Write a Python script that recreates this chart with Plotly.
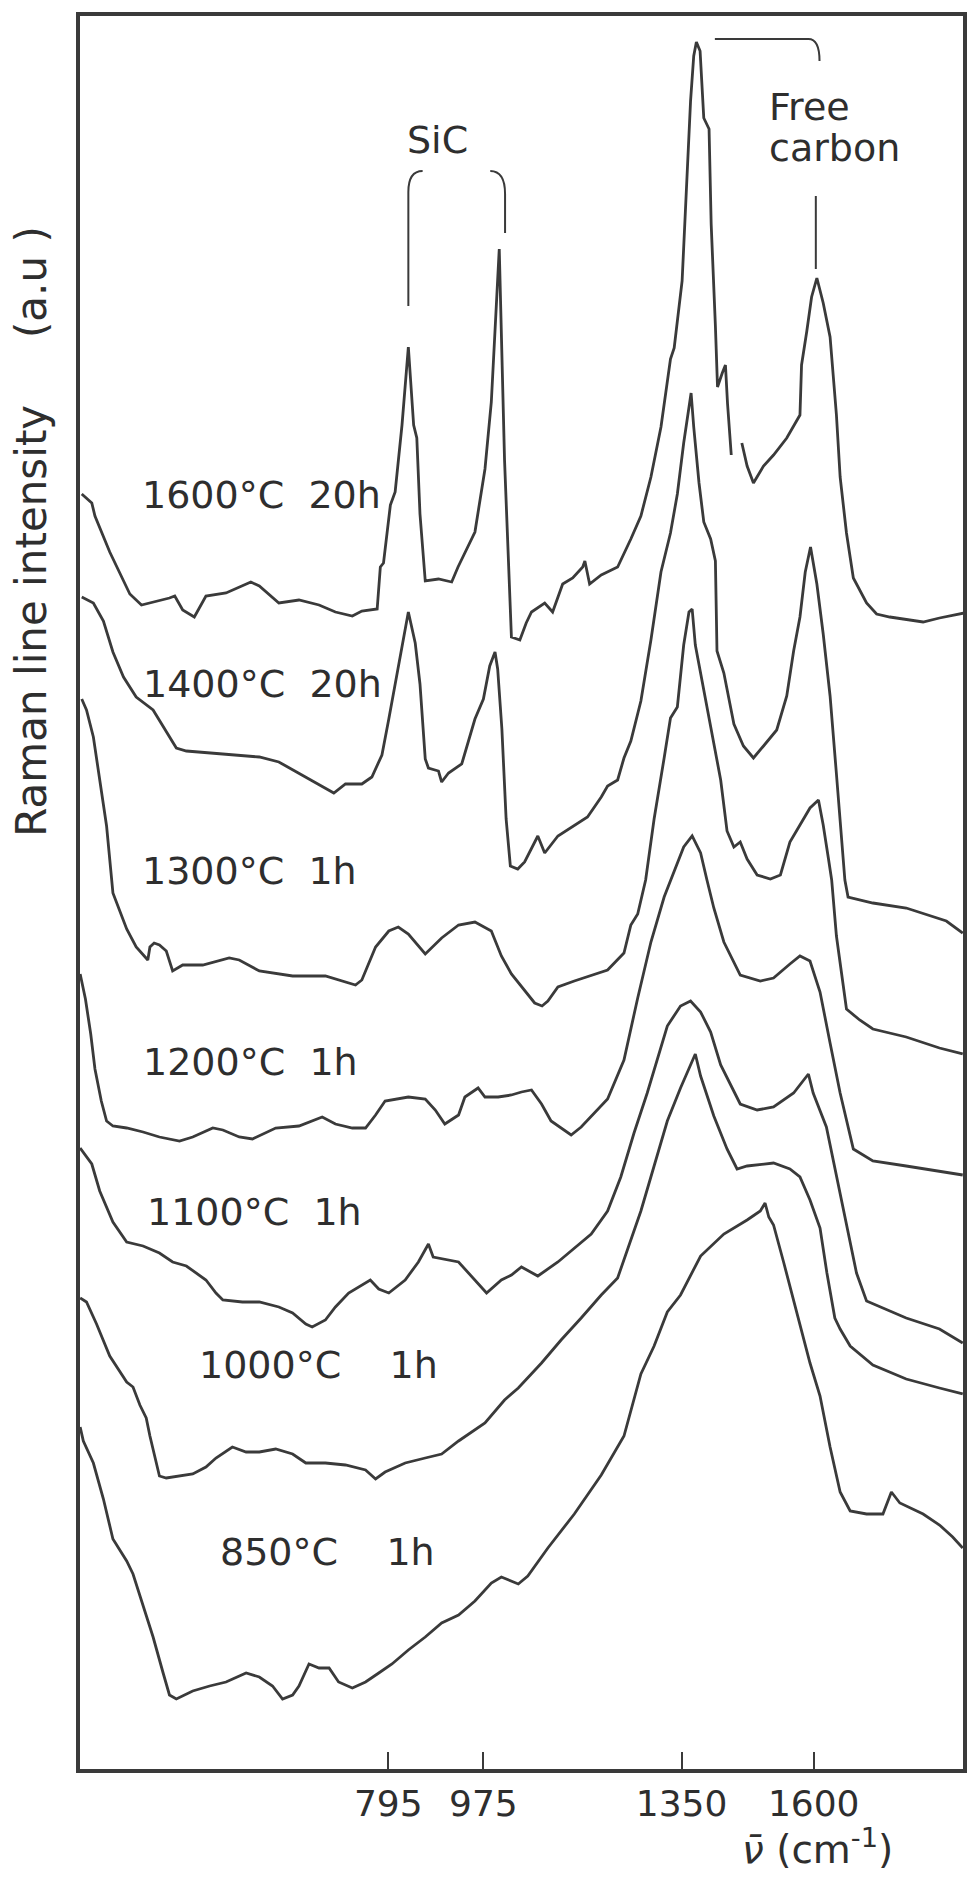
import plotly.graph_objects as go

# Raman spectra of pyrolysed samples, stacked (wavenumber in cm-1, intensity in a.u.)
NU_1600 = [215, 234, 240, 268, 306, 328, 381, 391, 406, 428, 450, 488, 535, 551, 588, 626, 664, 695, 727, 745,
           774, 780, 786, 799, 808, 821, 833, 843, 849, 855, 865, 890, 915, 927, 959, 978, 990, 1005, 1015, 1025,
           1028, 1044, 1056, 1066, 1091, 1106, 1125, 1144, 1163, 1167, 1176, 1198, 1229, 1254, 1273, 1292, 1311,
           1329, 1336, 1351, 1361, 1367, 1373, 1378, 1385, 1392, 1402, 1406, 1414, 1418, 1427, 1433, 1437, 1444,
           None, 1464, 1474, 1486, 1505, 1524, 1549, 1574, 1577, 1587, 1596, 1606, 1618, 1631, 1643, 1650, 1662,
           1675, 1700, 1719, 1744, 1807, 1838, 1885]
I_1600 = [1275, 1266, 1253, 1217, 1175, 1164, 1171, 1173, 1159, 1152, 1173, 1176, 1187, 1183, 1166, 1169, 1164,
          1157, 1153, 1158, 1160, 1202, 1206, 1264, 1277, 1344, 1422, 1344, 1331, 1255, 1188, 1190, 1187, 1202,
          1237, 1300, 1367, 1520, 1309, 1157, 1132, 1129, 1146, 1157, 1166, 1157, 1185, 1191, 1202, 1208, 1185,
          1194, 1202, 1230, 1253, 1292, 1342, 1410, 1421, 1488, 1595, 1668, 1713, 1727, 1718, 1651, 1640, 1545,
          1443, 1382, 1396, 1404, 1365, 1314, None, 1326, 1303, 1286, 1303, 1314, 1331, 1354, 1404, 1438, 1472,
          1491, 1466, 1432, 1354, 1292, 1236, 1191, 1166, 1155, 1152, 1147, 1151, 1156]

NU_1400 = [215, 237, 256, 274, 294, 318, 350, 394, 413, 488, 551, 588, 632, 670, 692, 714, 745, 764, 783, 796,
           808, 821, 833, 846, 855, 865, 871, 890, 896, 909, 934, 959, 975, 987, 997, 1002, 1010, 1018, 1026,
           1040, 1053, 1078, 1091, 1116, 1147, 1172, 1198, 1210, 1229, 1241, 1254, 1273, 1292, 1311, 1329, 1342,
           1354, 1364, 1368, 1373, 1383, 1392, 1405, 1414, 1417, 1430, 1449, 1467, 1486, 1505, 1530, 1549, 1562,
           1574, 1584, 1594, 1606, 1618, 1631, 1643, 1653, 1659, 1665, 1712, 1775, 1851, 1882]
I_1400 = [1172, 1166, 1148, 1117, 1092, 1072, 1059, 1021, 1018, 1015, 1012, 1007, 994, 983, 976, 985, 985, 992,
          1014, 1050, 1085, 1121, 1157, 1126, 1085, 1010, 1001, 998, 987, 996, 1005, 1050, 1070, 1103, 1117, 1100,
          1040, 950, 903, 900, 907, 933, 916, 933, 944, 952, 972, 983, 989, 1011, 1028, 1068, 1129, 1197, 1236,
          1275, 1326, 1365, 1376, 1342, 1286, 1247, 1230, 1208, 1118, 1096, 1045, 1023, 1011, 1023, 1039, 1073,
          1118, 1152, 1197, 1222, 1185, 1135, 1073, 995, 927, 889, 872, 866, 861, 848, 836]

NU_1300 = [215, 224, 237, 249, 262, 274, 300, 318, 340, 344, 352, 362, 375, 387, 406, 444, 494, 513, 551, 614,
           676, 733, 745, 771, 796, 814, 833, 865, 896, 928, 959, 990, 1009, 1028, 1047, 1072, 1086, 1097, 1116,
           1147, 1210, 1241, 1254, 1267, 1282, 1298, 1317, 1329, 1342, 1354, 1364, 1370, 1376, 1392, 1405, 1424,
           1436, 1449, 1461, 1474, 1493, 1518, 1537, 1555, 1574, 1593, 1609, 1618, 1628, 1634, 1643, 1662, 1687,
           1712, 1775, 1838, 1882]
I_1300 = [1070, 1059, 1032, 987, 943, 876, 840, 822, 809, 822, 826, 824, 818, 798, 804, 804, 811, 809, 798, 793,
          793, 784, 789, 822, 838, 842, 835, 815, 831, 844, 847, 838, 813, 795, 782, 766, 763, 768, 782, 788, 799,
          816, 844, 855, 889, 950, 1011, 1051, 1062, 1124, 1157, 1160, 1124, 1079, 1045, 989, 938, 922, 927, 910,
          894, 890, 894, 927, 944, 961, 969, 944, 910, 889, 833, 760, 749, 740, 732, 721, 715]

NU_1200 = [212, 222, 232, 240, 252, 262, 274, 300, 331, 362, 400, 425, 463, 482, 513, 538, 582, 626, 670, 695,
           727, 752, 771, 789, 833, 865, 884, 902, 928, 940, 965, 978, 1003, 1028, 1047, 1066, 1085, 1103, 1141,
           1160, 1210, 1241, 1267, 1292, 1317, 1342, 1354, 1370, 1386, 1398, 1411, 1430, 1461, 1499, 1524, 1555,
           1574, 1593, 1612, 1631, 1650, 1675, 1712, 1775, 1882]
I_1200 = [795, 770, 735, 700, 668, 648, 643, 641, 637, 632, 628, 632, 641, 639, 632, 630, 641, 643, 652, 645, 641,
          641, 654, 668, 672, 670, 659, 645, 654, 672, 681, 672, 672, 674, 677, 679, 665, 648, 634, 642, 670, 709,
          771, 827, 872, 905, 922, 933, 916, 889, 861, 827, 794, 788, 791, 805, 813, 808, 777, 726, 676, 620, 608,
          603, 594]

NU_1100 = [212, 234, 249, 274, 300, 331, 362, 387, 413, 450, 469, 482, 519, 551, 588, 614, 639, 651, 676, 695,
           720, 761, 777, 796, 827, 852, 871, 880, 928, 959, 981, 1009, 1028, 1047, 1078, 1116, 1179, 1210, 1235,
           1260, 1285, 1323, 1348, 1367, 1386, 1405, 1424, 1461, 1493, 1524, 1562, 1590, 1599, 1624, 1650, 1681,
           1700, 1775, 1838, 1882]
I_1100 = [621, 605, 578, 547, 527, 523, 516, 507, 503, 489, 476, 469, 467, 467, 462, 456, 445, 442, 449, 462, 476,
          489, 480, 476, 489, 507, 525, 512, 507, 489, 476, 489, 494, 502, 493, 507, 535, 558, 592, 636, 676, 743,
          763, 768, 757, 737, 704, 665, 659, 662, 676, 695, 676, 642, 575, 496, 468, 451, 440, 426]

NU_1000 = [212, 224, 243, 268, 300, 312, 325, 337, 344, 362, 375, 400, 425, 450, 469, 500, 526, 551, 582, 614,
           639, 676, 714, 752, 771, 789, 827, 865, 896, 928, 978, 1015, 1041, 1085, 1122, 1160, 1198, 1229, 1248,
           1273, 1298, 1323, 1348, 1370, 1376, 1386, 1411, 1436, 1455, 1474, 1524, 1555, 1574, 1593, 1612, 1625,
           1640, 1650, 1669, 1712, 1775, 1838, 1882]
I_1000 = [471, 467, 445, 413, 387, 382, 364, 351, 333, 293, 291, 293, 295, 302, 311, 322, 317, 317, 320, 315, 306,
          306, 304, 299, 290, 297, 306, 311, 315, 328, 346, 369, 381, 406, 429, 451, 474, 491, 519, 558, 603, 648,
          681, 709, 715, 693, 653, 620, 600, 603, 606, 600, 592, 569, 541, 496, 451, 440, 423, 404, 390, 381, 375]

NU_850 = [212, 218, 237, 256, 274, 300, 312, 331, 350, 369, 381, 394, 425, 457, 488, 526, 551, 576, 595, 614, 626,
          645, 664, 683, 701, 727, 752, 777, 802, 833, 865, 896, 928, 959, 990, 1009, 1041, 1059, 1097, 1147, 1198,
          1241, 1273, 1298, 1323, 1348, 1386, 1430, 1474, 1499, 1508, 1515, 1524, 1543, 1568, 1593, 1612, 1631,
          1650, 1669, 1700, 1731, 1747, 1763, 1807, 1838, 1863, 1882]
I_850 = [342, 328, 306, 270, 230, 208, 195, 163, 132, 96, 74, 70, 78, 83, 87, 96, 92, 83, 70, 74, 83, 105, 101, 101,
         87, 81, 87, 96, 105, 119, 132, 146, 154, 168, 186, 192, 185, 193, 221, 255, 294, 333, 395, 423, 457, 474,
         513, 535, 549, 558, 566, 552, 544, 507, 457, 406, 373, 322, 277, 258, 255, 255, 277, 266, 255, 244, 232, 221]

SPECTRA = [(NU_1600, I_1600), (NU_1400, I_1400), (NU_1300, I_1300), (NU_1200, I_1200),
           (NU_1100, I_1100), (NU_1000, I_1000), (NU_850, I_850)]

# Treatment labels and where they sit next to each trace
NB = "\u00a0"
LABELS = ["1600°C" + NB * 2 + "20h", "1400°C" + NB * 2 + "20h", "1300°C" + NB * 2 + "1h",
          "1200°C" + NB * 2 + "1h", "1100°C" + NB * 2 + "1h", "1000°C" + NB * 4 + "1h", "850°C" + NB * 4 + "1h"]
LABEL_NU = [325, 328, 325, 328, 334, 434, 472]
LABEL_I = [1274, 1085, 898, 707, 557, 404, 217]

TICK_NU = [795, 975, 1350, 1600]
TICK_TEXT = ["795", "975", "1350", "1600"]

NU_RANGE = [211.7, 1882.5]
I_RANGE = [0, 1753]

INK = "#3a3a3a"
TEXT_INK = "#2e2e2e"
FONT = "DejaVu Sans"

fig = go.Figure()
for nu, inten in SPECTRA:
    fig.add_trace(go.Scatter(x=nu, y=inten, mode="lines", connectgaps=False,
                             line=dict(color=INK, width=2.8), hoverinfo="skip", showlegend=False))

label_font = dict(family=FONT, size=38, color=TEXT_INK)
annotations = []
for text, x, y in zip(LABELS, LABEL_NU, LABEL_I):
    annotations.append(dict(x=x, y=y, xref="x", yref="y", text=text, showarrow=False,
                            xanchor="left", yanchor="middle", font=label_font))

annotations += [
    dict(x=888, y=1629, xref="x", yref="y", text="SiC", showarrow=False,
         xanchor="center", yanchor="middle", font=label_font),
    dict(x=1511, y=1662, xref="x", yref="y", text="Free", showarrow=False,
         xanchor="left", yanchor="middle", font=label_font),
    dict(x=1511, y=1621, xref="x", yref="y", text="carbon", showarrow=False,
         xanchor="left", yanchor="middle", font=label_font),
    dict(x=-0.0552, y=0.706, xref="paper", yref="paper", textangle=-90,
         text="Raman line intensity" + NB * 5 + "(a.u" + NB + ")", showarrow=False,
         xanchor="center", yanchor="middle", font=dict(family=FONT, size=42, color=TEXT_INK)),
    dict(x=0.748, y=-0.0445, xref="paper", yref="paper", xanchor="left", yanchor="middle",
         text="<i>ν̄</i> (cm<sup>-1</sup>)", showarrow=False,
         font=dict(family=FONT, size=39, color=TEXT_INK)),
]

bracket = dict(color=INK, width=2)
shapes = [
    dict(type="path", xref="x", yref="y", path="M 833,1463 L 833,1577 Q 833,1598 860,1598", line=bracket),
    dict(type="path", xref="x", yref="y", path="M 1016,1536 L 1016,1575 Q 1016,1598 988,1598", line=bracket),
    dict(type="path", xref="x", yref="y", path="M 1413,1730 L 1590,1730 Q 1611,1730 1611,1708", line=bracket),
    dict(type="line", xref="x", yref="y", x0=1604, x1=1604, y0=1500, y1=1573, line=bracket),
]

fig.update_layout(
    width=970, height=1880,
    margin=dict(l=80, r=3, t=16, b=111, pad=0),
    paper_bgcolor="white", plot_bgcolor="white",
    annotations=annotations, shapes=shapes,
    xaxis=dict(range=NU_RANGE, tickmode="array", tickvals=TICK_NU, ticktext=TICK_TEXT,
               ticks="inside", ticklen=17, tickwidth=2, tickcolor=INK,
               showline=True, linecolor=INK, linewidth=4, mirror=True,
               showgrid=False, zeroline=False, ticklabelstandoff=0,
               tickfont=dict(family=FONT, size=36, color=TEXT_INK)),
    yaxis=dict(range=I_RANGE, showticklabels=False, ticks="",
               showline=True, linecolor=INK, linewidth=4, mirror=True,
               showgrid=False, zeroline=False),
)

fig.write_html("out.html")
